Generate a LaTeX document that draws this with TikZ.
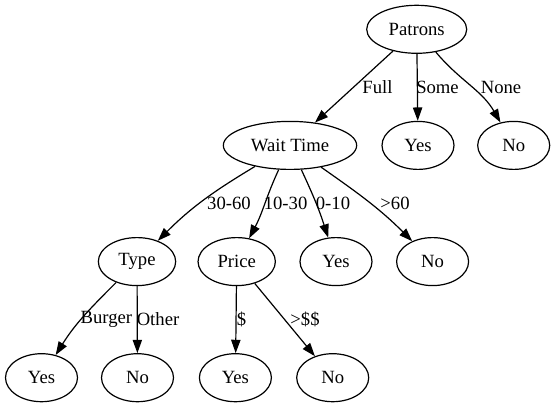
\documentclass[tikz,border=0pt]{standalone}
\usepackage{fontspec}
\setmainfont{Liberation Serif}
\usetikzlibrary{shapes.geometric,arrows.meta}

\begin{document}
\begin{tikzpicture}[
    x=0.75pt, y=0.75pt,
    node/.style={ellipse, draw, line width=0.9pt, inner sep=0pt, minimum width=54pt, minimum height=36pt, font=\fontsize{14}{16}\selectfont},
    lbl/.style={inner sep=0pt, font=\fontsize{14}{16}\selectfont},
    >={Triangle[length=10pt, width=7pt]},
    every path/.style={line width=0.9pt}
]
\useasboundingbox (0,0) rectangle (555,407);

% Positions (four ranks)
\node[node, minimum width=75pt] (pat) at (416.7,377.7) {Patrons};

\node[node, minimum width=100pt] (wt) at (290,261.6) {Wait Time};
\node[node] (yes1) at (418,261.6) {Yes};
\node[node] (no1) at (513.7,261.6) {No};

\node[node, minimum width=58pt] (type) at (137,145.4) {Type};
\node[node, minimum width=58pt] (price) at (236.7,145.4) {Price};
\node[node] (yes2) at (336,145.4) {Yes};
\node[node] (no2) at (432.6,145.4) {No};

\node[node] (yes3) at (41.5,29.3) {Yes};
\node[node] (no3) at (137.5,29.3) {No};
\node[node] (yes4) at (235.4,29.3) {Yes};
\node[node] (no4) at (332.7,29.3) {No};

% --- Patrons ---
\draw[->] (pat) -- (wt);
\draw[->] (pat) -- (yes1);
\draw[->] (pat) to[out=-50, in=120] (no1);

\node[lbl] (lfull) at (377.5,319.6) {Full};
\node[lbl] (lsome) at (437.5,319.6) {Some};
\node[lbl] (lnone) at (501,319.6) {None};

% --- Wait Time ---
\draw[->] (wt) to[out=211, in=45] (type);
\draw[->] (wt) to[out=245, in=62] (price);
\draw[->] (wt) to[out=-65, in=108] (yes2);
\draw[->] (wt) to[out=-35, in=135] (no2);

\node[lbl] (l3060) at (229,203.5) {30-60};
\node[lbl] (l1030) at (285.6,203.5) {10-30};
\node[lbl] (l010) at (333,203.5) {0-10};
\node[lbl] (lgt60) at (395,203.5) {>60};

% --- Type and Price ---
\draw[->] (type) to[out=225, in=58] (yes3);
\draw[->] (type) -- (no3);
\draw[->] (price) -- (yes4);
\draw[->] (price) -- (no4);

\node[lbl] (lburger) at (106.4,87.5) {Burger};
\node[lbl] (lother) at (158,87.5) {Other};
\node[lbl] (lcheap) at (241.6,87.5) {\$};
\node[lbl] (ldear) at (305,87.5) {>\$\$};

\end{tikzpicture}
\end{document}
